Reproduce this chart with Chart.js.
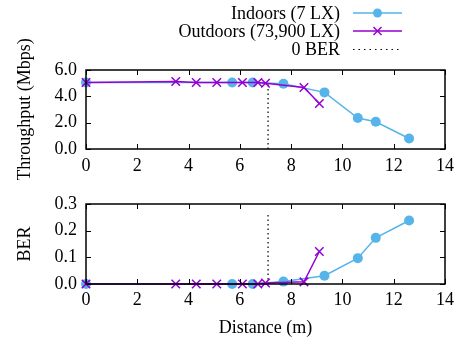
<!DOCTYPE html>
<html>
<head>
<meta charset="utf-8">
<script src="https://cdn.jsdelivr.net/npm/chart.js@4"></script>
<style>
  body { margin: 0; background: #fff; }
  #wrap { position: relative; width: 461px; height: 345px; font-family: 'Liberation Serif', serif; }
  canvas { position: absolute; left: 0; }
  .leg { position: absolute; left: 0; width: 340px; text-align: right; font-size: 18px; line-height: 18px; color: #000; }
  .legsvg { position: absolute; left: 352px; }
</style>
</head>
<body>
<div id="wrap">
  <canvas id="tputChart" width="461" height="180" style="top:0"></canvas>
  <canvas id="berChart" width="461" height="165" style="top:180px"></canvas>
  <div class="leg" style="top:4px">Indoors (7 LX)</div>
  <div class="leg" style="top:22px">Outdoors (73,900 LX)</div>
  <div class="leg" style="top:40px">0 BER</div>
  <svg class="legsvg" style="top:7px" width="52" height="12"><line x1="1" y1="6" x2="50" y2="6" stroke="#56B4E9" stroke-width="1.5"/><circle cx="25.5" cy="6" r="4.5" fill="#56B4E9"/></svg>
  <svg class="legsvg" style="top:25px" width="52" height="12"><line x1="1" y1="6" x2="50" y2="6" stroke="#9400D3" stroke-width="1.5"/><path d="M21.5 2 L29.5 10 M29.5 2 L21.5 10" stroke="#9400D3" stroke-width="1.5"/></svg>
  <svg class="legsvg" style="top:43px" width="52" height="12"><line x1="1" y1="6.5" x2="50" y2="6.5" stroke="#000" stroke-width="1.2" stroke-dasharray="1.5,4"/></svg>
</div>
<script>
// Data
const indoorDist = [0, 5.7, 6.5, 7.7, 9.3, 10.6, 11.3, 12.6];
const indoorTput = [5.05, 5.05, 5.05, 4.95, 4.3, 2.35, 2.07, 0.8];
const indoorBer  = [0, 0, 0, 0.009, 0.031, 0.097, 0.173, 0.238];

const outdoorDist = [0, 3.5, 4.3, 5.1, 6.1, 6.7, 7.0, 8.5, 9.1];
const outdoorTput = [5.05, 5.12, 5.05, 5.05, 5.05, 5.05, 5.0, 4.67, 3.45];
const outdoorBer  = [0, 0, 0, 0, 0, 0, 0.004, 0.008, 0.122];

const zeroBerDist = [7.1, 7.1];
const zeroBerTput = [0, 5.1];
const zeroBerBer  = [0, 0.27];

const xTicksMax = 14;

const FONT = "'Liberation Serif', serif";
Chart.defaults.font.family = FONT;
Chart.defaults.font.size = 18;
Chart.defaults.color = '#000';

const pts = (xs, ys) => xs.map((x, i) => ({ x, y: ys[i] }));

// gnuplot style box with inward ticks on all four sides
const frameTicks = {
    id: 'frameTicks',
    afterDatasetsDraw(chart) {
        const { ctx, chartArea: a, scales: { x, y } } = chart;
        ctx.save();
        ctx.strokeStyle = '#000';
        ctx.lineWidth = 1;
        ctx.beginPath();
        x.ticks.forEach(t => {
            const px = Math.round(x.getPixelForValue(t.value)) + 0.5;
            ctx.moveTo(px, a.bottom); ctx.lineTo(px, a.bottom - 5);
            ctx.moveTo(px, a.top); ctx.lineTo(px, a.top + 5);
        });
        y.ticks.forEach(t => {
            const py = Math.round(y.getPixelForValue(t.value)) + 0.5;
            ctx.moveTo(a.left, py); ctx.lineTo(a.left + 5, py);
            ctx.moveTo(a.right, py); ctx.lineTo(a.right - 5, py);
        });
        ctx.stroke();
        ctx.lineWidth = 1.5;
        ctx.strokeRect(a.left, a.top, a.width, a.height);
        ctx.restore();
    }
};

function makeDatasets(tput) {
    return [
        {
            label: 'Indoors (7 LX)',
            data: pts(indoorDist, tput ? indoorTput : indoorBer),
            borderColor: '#56B4E9', backgroundColor: '#56B4E9',
            borderWidth: 1.5, pointStyle: 'circle', pointRadius: 5, pointBorderWidth: 0,
            clip: false, order: 2
        },
        {
            label: 'Outdoors (73,900 LX)',
            data: pts(outdoorDist, tput ? outdoorTput : outdoorBer),
            borderColor: '#9400D3', backgroundColor: '#9400D3',
            borderWidth: 1.5, pointStyle: 'crossRot', pointRadius: 6, pointBorderWidth: 1.5,
            clip: false, order: 1
        },
        {
            label: '0 BER',
            data: pts(zeroBerDist, tput ? zeroBerTput : zeroBerBer),
            borderColor: '#000', borderWidth: 1.2, borderDash: [1.5, 3],
            pointRadius: 0, order: 3
        }
    ];
}

function makeOptions(cfg) {
    return {
        responsive: false,
        animation: false,
        layout: { padding: { top: cfg.padTop, right: 16, left: 0, bottom: 0 } },
        plugins: { legend: { display: false }, tooltip: { enabled: false } },
        scales: {
            x: {
                type: 'linear', min: 0, max: xTicksMax,
                grid: { display: false, drawTicks: false },
                border: { display: false },
                ticks: { stepSize: 2, padding: cfg.xPad, maxRotation: 0 },
                title: cfg.xTitle ? { display: true, text: 'Distance (m)', padding: { top: 0, bottom: 6 } } : { display: false },
                afterFit: s => { s.height = cfg.xHeight; }
            },
            y: {
                min: 0, max: cfg.yMax,
                grid: { display: false, drawTicks: false },
                border: { display: false },
                ticks: { stepSize: cfg.yStep, padding: 9, callback: v => v.toFixed(1) },
                title: { display: true, text: cfg.yTitle, padding: { top: 14, bottom: 0 } },
                afterFit: s => { s.width = 86; }
            }
        }
    };
}

new Chart(document.getElementById('tputChart'), {
    type: 'line',
    data: { datasets: makeDatasets(true) },
    options: makeOptions({ padTop: 70, xPad: 6, xHeight: 31, yMax: 6, yStep: 2, yTitle: 'Throughput (Mbps)', xTitle: false }),
    plugins: [frameTicks]
});

new Chart(document.getElementById('berChart'), {
    type: 'line',
    data: { datasets: makeDatasets(false) },
    options: makeOptions({ padTop: 24, xPad: 5, xHeight: 61, yMax: 0.3, yStep: 0.1, yTitle: 'BER', xTitle: true }),
    plugins: [frameTicks]
});
</script>
</body>
</html>
